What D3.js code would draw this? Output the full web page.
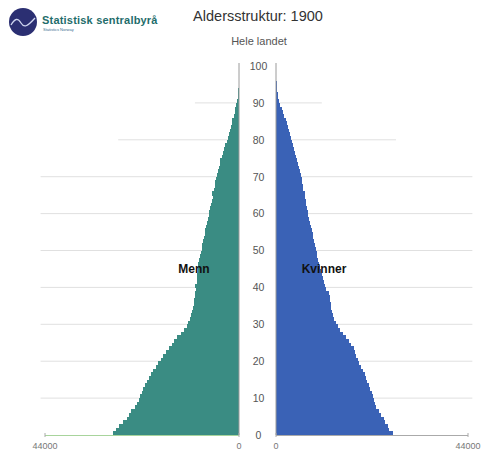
<!DOCTYPE html>
<html><head><meta charset="utf-8">
<script src="https://cdn.jsdelivr.net/npm/d3@7"></script>
<style>body{margin:0;background:#fff;}svg{display:block;font-family:"Liberation Sans",Arial,sans-serif;}</style>
</head><body>
<script>
const title = "Aldersstruktur: 1900";
const subtitle = "Hele landet";
const seriesNames = ["Menn", "Kvinner"];
const ages = d3.range(0, 101);
const menn = [28500,27800,27200,26300,25500,25000,24500,23700,23200,22700,
22400,22000,21800,21300,20900,20500,20000,19500,18800,18300,
17600,17200,16500,15900,15300,14700,14000,13200,12400,11900,
11500,11100,10900,10700,10500,10300,10200,10000,9900,9700,
10000,9600,9500,9500,9400,9300,9300,9000,8800,8600,
8500,8300,8100,7900,7800,7600,7400,7200,7000,6800,
6700,6500,6400,6200,6000,6200,5700,5500,5400,5200,
5000,4800,4600,4400,4200,3900,3700,3400,3100,2800,
2500,2300,2100,1900,1700,1500,1200,1000,800,600,
450,330,240,170,110,70,45,25,15,8,5];
const kvinner = [26700,26000,25600,25000,24700,24000,23500,23000,22800,22500,
22200,21900,21600,21200,20900,20600,20300,19900,19500,19100,
18700,18400,18000,17800,17300,16800,16100,15300,14600,14100,
13700,13300,13000,12800,12600,12500,12400,12300,12100,11500,
11300,11000,10700,10500,10300,10100,9900,9700,9500,9300,
9150,8900,8700,8500,8400,8200,8000,7800,7600,7400,
7250,7100,6900,6800,6600,6750,6300,6100,5950,5850,
5700,5500,5300,5100,4800,4600,4400,4100,3900,3650,
3450,3200,2950,2700,2450,2200,1900,1600,1300,1000,
760,560,400,280,180,120,75,45,25,14,8];
const yTicks = [0,10,20,30,40,50,60,70,80,90,100];
const xMax = 44000;
const xTickLabels = ["44000", "0"];
// gridline extent (population units) per age tick, left / right
const gridExtentLeft  = [45000,45000,45000,45000,45000,45000,45000,45000,27400,10000,0];
const gridExtentRight = [45000,45000,45000,45000,45000,45000,45000,45000,27500,10500,0];

const W = 481, H = 453;
const svg = d3.select("body").append("svg").attr("width", W).attr("height", H);

const y = d3.scaleLinear().domain([0, 100]).range([435, 66]);
const xL = d3.scaleLinear().domain([0, xMax]).range([239, 45]);
const xR = d3.scaleLinear().domain([0, xMax]).range([276, 468]);

// gridlines
const grid = svg.append("g");
yTicks.forEach((t, i) => {
  if (t === 0 || t === 100) return;
  grid.append("line").attr("x1", xL(gridExtentLeft[i])).attr("x2", xL(0))
    .attr("y1", y(t)).attr("y2", y(t)).attr("stroke", "#e0e0e0").attr("stroke-width", 1);
  grid.append("line").attr("x1", xR(0)).attr("x2", xR(gridExtentRight[i]))
    .attr("y1", y(t)).attr("y2", y(t)).attr("stroke", "#e0e0e0").attr("stroke-width", 1);
});

// bars
const gM = svg.append("g").attr("shape-rendering", "crispEdges");
gM.selectAll("rect").data(ages).join("rect")
  .attr("x", a => xL(menn[a])).attr("width", a => xL(0) - xL(menn[a]))
  .attr("y", a => y(a + 1)).attr("height", a => y(a) - y(a + 1) + 1)
  .attr("fill", "#3a8c83");
const gK = svg.append("g").attr("shape-rendering", "crispEdges");
gK.selectAll("rect").data(ages).join("rect")
  .attr("x", xR(0)).attr("width", a => xR(kvinner[a]) - xR(0))
  .attr("y", a => y(a + 1)).attr("height", a => y(a) - y(a + 1) + 1)
  .attr("fill", "#3a62b6");

// vertical axis lines
svg.append("line").attr("x1", xL(0)).attr("x2", xL(0)).attr("y1", 63).attr("y2", y(0))
  .attr("stroke", "#9a9a9a").attr("stroke-width", 1);
svg.append("line").attr("x1", xR(0)).attr("x2", xR(0)).attr("y1", 63).attr("y2", y(0))
  .attr("stroke", "#9a9a9a").attr("stroke-width", 1);

// age tick labels
svg.append("g").selectAll("text").data(yTicks).join("text")
  .attr("x", (xL(0) + xR(0)) / 2 + 1).attr("y", t => y(t) + 3.8)
  .attr("text-anchor", "middle").attr("font-size", 10.5).attr("fill", "#555")
  .text(t => t);

// bottom axes
svg.append("line").attr("x1", xL(xMax)).attr("x2", xL(0)).attr("y1", y(0) + 0.5).attr("y2", y(0) + 0.5)
  .attr("stroke", "#a8d49c").attr("stroke-width", 1);
svg.append("line").attr("x1", xR(0)).attr("x2", xR(xMax)).attr("y1", y(0) + 0.5).attr("y2", y(0) + 0.5)
  .attr("stroke", "#aaa").attr("stroke-width", 1);
[[xL, xMax, xTickLabels[0]], [xL, 0, xTickLabels[1]], [xR, 0, xTickLabels[1]], [xR, xMax, xTickLabels[0]]].forEach(([s, v, lab]) => {
  svg.append("line").attr("x1", s(v)).attr("x2", s(v)).attr("y1", y(0) - 2).attr("y2", y(0) + 2)
    .attr("stroke", "#aaa");
  svg.append("text").attr("x", s(v)).attr("y", 449).attr("text-anchor", "middle")
    .attr("font-size", 9).attr("fill", "#777").text(lab);
});

// series labels
svg.append("text").attr("x", 194).attr("y", 272.5).attr("text-anchor", "middle")
  .attr("font-size", 12).attr("font-weight", "bold").attr("fill", "#111").text(seriesNames[0]);
svg.append("text").attr("x", 324).attr("y", 272.5).attr("text-anchor", "middle")
  .attr("font-size", 12).attr("font-weight", "bold").attr("fill", "#111").text(seriesNames[1]);

// titles
svg.append("text").attr("x", 258).attr("y", 21).attr("text-anchor", "middle")
  .attr("font-size", 14.5).attr("fill", "#333").text(title);
svg.append("text").attr("x", 259).attr("y", 45).attr("text-anchor", "middle")
  .attr("font-size", 11).attr("fill", "#555").text(subtitle);

// logo
const logo = svg.append("g");
logo.append("circle").attr("cx", 23).attr("cy", 22).attr("r", 14).attr("fill", "#2b2f72");
logo.append("path").attr("d", "M11,25 C15,18 18,18 21,23 C24,28 27,27 35,18")
  .attr("fill", "none").attr("stroke", "#cfd6f0").attr("stroke-width", 1.3);
logo.append("text").attr("x", 42).attr("y", 24).attr("font-size", 11).attr("font-weight", "bold")
  .attr("letter-spacing", 0.2).attr("fill", "#1f6d6b").text("Statistisk sentralbyrå");
logo.append("text").attr("x", 43).attr("y", 31).attr("font-size", 4)
  .attr("fill", "#3a6f8f").text("Statistics Norway");
</script>
</body></html>
